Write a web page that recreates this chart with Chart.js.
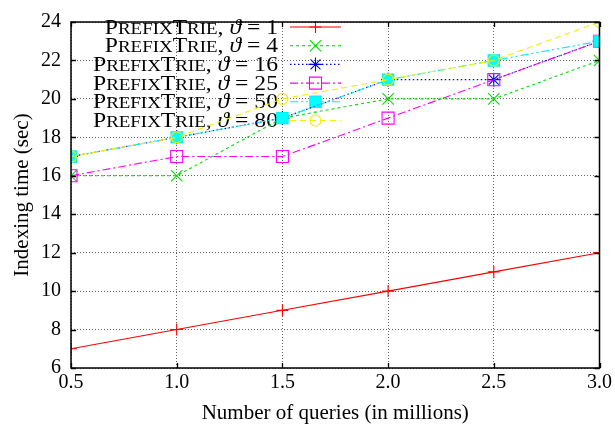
<!DOCTYPE html>
<html><head><meta charset="utf-8">
<script src="https://cdn.jsdelivr.net/npm/chart.js@4/dist/chart.umd.min.js"></script>
<style>html,body{margin:0;padding:0;background:#fff}#wrap{width:615px;height:434px}</style>
</head><body><div id="wrap"><canvas id="c" width="615" height="434"></canvas></div>
<script>
const queries = [0.5, 1.0, 1.5, 2.0, 2.5, 3.0];
const theta1  = [7, 8, 9, 10, 11, 12];
const theta4  = [16, 16, 19, 20, 20, 22];
const theta16 = [17, 18, 19, 21, 21, 23];
const theta25 = [16, 17, 17, 19, 21, 23];
const theta50 = [17, 18, 19, 21, 22, 23];
const theta80 = [17, 18, 20, 21, 22, 24];
const thetaLabels = ['1', '4', '16', '25', '50', '80'];
const xTicks = [0.5, 1.0, 1.5, 2.0, 2.5, 3.0];
const yTicks = [6, 8, 10, 12, 14, 16, 18, 20, 22, 24];
const xTitle = 'Number of queries (in millions)';
const yTitle = 'Indexing time (sec)';

const FONT = '"Liberation Serif", "Times New Roman", serif';
const FS = 20;     // tick labels
const FT = 21;     // axis titles
const FL = 20;     // legend

function pts(arr){ return queries.map((q,i)=>({x:q, y:arr[i]})); }

const styles = [
  {color:'#ff0000', dash:[], ps:'cross', r:6, fill:'rgba(0,0,0,0)'},
  {color:'#00e000', dash:[3,3], ps:'crossRot', r:8, fill:'rgba(0,0,0,0)'},
  {color:'#0000ff', dash:[1.5,2.5], ps:'star', r:7, fill:'rgba(0,0,0,0)'},
  {color:'#ff00ff', dash:[8,3,2,3], ps:'rect', r:8.5, fill:'rgba(0,0,0,0)'},
  {color:'#00f0f0', dash:[8,3,2,3,2,3], ps:'rect', r:8, fill:'#00ffff'},
  {color:'#f0f000', dash:[6,4], ps:'circle', r:5.5, fill:'rgba(0,0,0,0)'}
];
const series = [theta1, theta4, theta16, theta25, theta50, theta80];

const datasets = series.map((s,i)=>({
  label: 'PrefixTrie, ϑ = ' + thetaLabels[i],
  data: pts(s),
  borderColor: styles[i].color,
  backgroundColor: styles[i].fill,
  borderDash: styles[i].dash,
  borderWidth: 1.1,
  pointStyle: styles[i].ps,
  pointRadius: styles[i].r,
  pointHoverRadius: styles[i].r,
  pointBorderWidth: 1.1,
  pointBorderColor: styles[i].color,
  pointBackgroundColor: styles[i].fill,
  tension: 0,
  fill: false,
  order: series.length - i
}));

function segs(t){
  const sc = Math.round(FL*0.78);
  return [
    {t:'P', s:FL}, {t:'REFIX', s:sc}, {t:'T', s:FL}, {t:'RIE', s:sc},
    {t:', ', s:FL}, {t:'ϑ', s:FL, it:true}, {t:' = ' + t, s:FL}
  ];
}
function fontOf(sg){ return (sg.it?'italic ':'') + sg.s + 'px ' + FONT; }
function segWidth(ctx, sg){ let w = 0; sg.forEach(s=>{ ctx.font = fontOf(s); w += ctx.measureText(s.t).width; }); return w; }

const legendPlugin = {
  id:'gpLegend',
  beforeDatasetsDraw(chart){
    const ctx = chart.ctx;
    const textRight = 278, lineX1 = 290, lineX2 = 341, y0 = 27, dy = 18.7;
    ctx.save();
    const k = 185 / segWidth(ctx, segs('16'));
    ctx.restore();
    chart.data.datasets.forEach((ds,i)=>{
      const y = y0 + i*dy;
      const sg = segs(thetaLabels[i]);
      ctx.save();
      const w = segWidth(ctx, sg);
      ctx.translate(textRight, 0);
      ctx.scale(k, 1);
      let x = -w;
      ctx.fillStyle = '#000';
      ctx.textBaseline = 'alphabetic';
      ctx.textAlign = 'left';
      sg.forEach(s=>{ ctx.font = fontOf(s); ctx.fillText(s.t, x, y + 6.5); x += ctx.measureText(s.t).width; });
      ctx.restore();
      ctx.save();
      ctx.strokeStyle = ds.borderColor;
      ctx.lineWidth = ds.borderWidth;
      ctx.setLineDash(ds.borderDash);
      ctx.beginPath(); ctx.moveTo(lineX1, y); ctx.lineTo(lineX2, y); ctx.stroke();
      ctx.setLineDash([]);
      ctx.fillStyle = ds.pointBackgroundColor;
      ctx.strokeStyle = ds.pointBorderColor;
      ctx.lineWidth = ds.pointBorderWidth;
      Chart.helpers.drawPoint(ctx, {pointStyle: ds.pointStyle, radius: ds.pointRadius, rotation: 0, borderWidth: ds.pointBorderWidth}, (lineX1+lineX2)/2, y);
      ctx.restore();
    });
  }
};

const framePlugin = {
  id:'gpFrame',
  afterDraw(chart){
    const {ctx, chartArea:a, scales} = chart;
    ctx.save();
    ctx.strokeStyle = '#000';
    ctx.lineWidth = 1.3;
    ctx.setLineDash([]);
    const tl = 5;
    ctx.beginPath();
    yTicks.forEach(v=>{
      const y = Math.round(scales.y.getPixelForValue(v)) + 0.5;
      ctx.moveTo(a.left, y); ctx.lineTo(a.left + tl, y);
      ctx.moveTo(a.right, y); ctx.lineTo(a.right - tl, y);
    });
    xTicks.forEach(v=>{
      const x = Math.round(scales.x.getPixelForValue(v)) + 0.5;
      ctx.moveTo(x, a.bottom); ctx.lineTo(x, a.bottom - tl);
      ctx.moveTo(x, a.top); ctx.lineTo(x, a.top + tl);
    });
    ctx.stroke();
    ctx.lineWidth = 1.5;
    ctx.strokeRect(a.left, a.top, a.right - a.left, a.bottom - a.top);
    ctx.restore();
  }
};

new Chart(document.getElementById('c'), {
  type:'line',
  data:{datasets},
  options:{
    responsive:false,
    animation:false,
    devicePixelRatio:1,
    layout:{padding:{top:11, right:14, left:0, bottom:0}},
    plugins:{legend:{display:false}, tooltip:{enabled:false}},
    scales:{
      x:{
        type:'linear', min:0.5, max:3.0,
        afterBuildTicks: s => { s.ticks = xTicks.map(v=>({value:v})); },
        afterFit: s => { s.height = 66; },
        ticks:{ callback: v => Number(v).toFixed(1), color:'#000', font:{family:FONT, size:FS}, padding:3, maxRotation:0, autoSkip:false },
        grid:{ color:'#666', lineWidth:1, drawTicks:false },
        border:{ display:false, dash:[1,2] },
        title:{ display:true, text:xTitle, color:'#000', font:{family:FONT, size:FT}, padding:{top:0, bottom:8} }
      },
      y:{
        type:'linear', min:6, max:24,
        afterBuildTicks: s => { s.ticks = yTicks.map(v=>({value:v})); },
        afterFit: s => { s.width = 71; },
        ticks:{ callback: v => String(v), color:'#000', font:{family:FONT, size:FS}, padding:10, autoSkip:false },
        grid:{ color:'#666', lineWidth:1, drawTicks:false },
        border:{ display:false, dash:[1,2] },
        title:{ display:true, text:yTitle, color:'#000', font:{family:FONT, size:FT}, padding:{top:10, bottom:0} }
      }
    }
  },
  plugins:[legendPlugin, framePlugin]
});
</script></body></html>
